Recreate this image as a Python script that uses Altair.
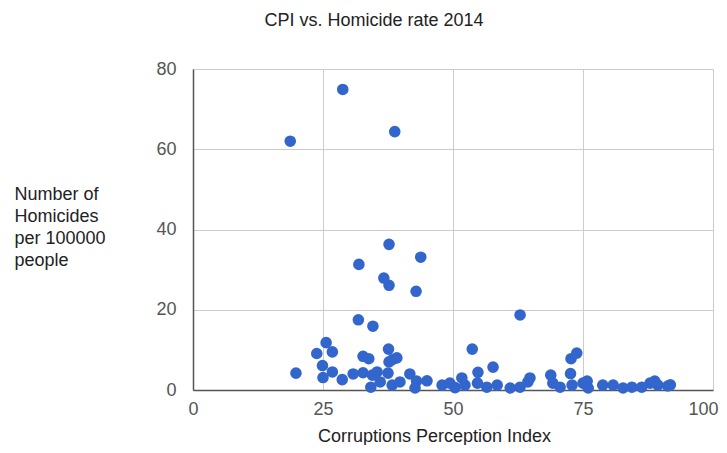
import altair as alt
import pandas as pd

# Corruption Perception Index (x) and homicides per 100000 people (y)
cpi = [18.7, 28.8, 38.8, 37.7, 31.9, 43.8, 36.7, 37.7, 42.9,
       31.8, 34.6, 62.9, 53.7, 57.7,
       19.8, 25.6, 23.8, 26.8, 24.9, 25.0, 26.8, 28.7, 30.8,
       32.7, 33.8, 37.6, 38.4, 39.2, 37.7,
       32.7, 34.5, 35.4, 34.2, 36.0, 37.5, 38.3, 39.8, 41.7, 43.0, 42.7, 45.0,
       47.9, 49.4, 50.4, 51.7, 52.3, 54.8, 54.7, 56.5,
       58.5, 61.0, 62.9, 64.4, 64.8,
       68.8, 69.2, 70.6, 72.6, 72.7, 73.8, 72.9, 75.0, 75.8, 76.0,
       78.8, 80.8, 82.7, 84.4, 86.3, 87.9, 89.4, 88.8, 91.3, 91.8]
homicides = [62.0, 74.9, 64.4, 36.3, 31.3, 33.1, 27.9, 26.1, 24.6,
             17.5, 15.9, 18.7, 10.2, 5.7,
             4.2, 11.8, 9.1, 9.5, 6.1, 3.1, 4.5, 2.6, 4.0,
             8.4, 7.8, 10.2, 7.6, 8.0, 7.0,
             4.3, 3.7, 4.5, 0.7, 2.0, 4.2, 1.2, 2.0, 4.0, 2.2, 0.5, 2.3,
             1.2, 1.7, 0.6, 3.0, 1.2, 4.4, 1.7, 0.7,
             1.2, 0.5, 0.7, 2.0, 3.0,
             3.7, 1.7, 0.7, 4.1, 7.8, 9.2, 1.2, 1.7, 2.2, 0.5,
             1.2, 1.2, 0.5, 0.7, 0.7, 1.7, 1.2, 2.2, 1.0, 1.3]

x_ticks = [0, 25, 50, 75, 100]
y_ticks = [0, 20, 40, 60, 80]

df = pd.DataFrame({"cpi": cpi, "homicides": homicides})

FONT = "Liberation Sans"

chart = alt.Chart(df).mark_circle(size=135, color="#3366cc", opacity=1).encode(
    x=alt.X("cpi:Q",
            scale=alt.Scale(domain=[0, 100], nice=False),
            axis=alt.Axis(values=x_ticks, title="Corruptions Perception Index",
                          titleX=241, titleY=51, titleBaseline="alphabetic",
                          titleAlign="center", titleFontWeight="normal",
                          titleFontSize=18, titleColor="#222222", titleFont=FONT,
                          labelFontSize=18, labelColor="#555555", labelFont=FONT,
                          labelPadding=10, ticks=False, tickSize=0,
                          labelAlign={"expr": "datum.value === 100 ? 'right' : 'center'"},
                          labelOffset={"expr": "datum.value === 100 ? 5 : 0"},
                          domainColor="#555555", domainWidth=1.5,
                          gridColor="#cccccc", labelFlush=False)),
    y=alt.Y("homicides:Q",
            scale=alt.Scale(domain=[0, 80], nice=False),
            axis=alt.Axis(values=y_ticks,
                          title=["Number of", "Homicides", "per 100000", "people"],
                          titleAngle=0, titleAlign="left", titleBaseline="alphabetic",
                          titleX=-179, titleY=130, titleLineHeight=22,
                          titleFontWeight="normal", titleFontSize=18,
                          titleColor="#222222", titleFont=FONT,
                          labelFontSize=18, labelColor="#555555", labelFont=FONT,
                          labelPadding=17, ticks=False, tickSize=0,
                          domainColor="#555555", domainWidth=1.5,
                          gridColor="#cccccc")),
).properties(
    width=520, height=321,
    title=alt.TitleParams("CPI vs. Homicide rate 2014", fontSize=18, font=FONT,
                          fontWeight="normal", color="#222222",
                          anchor="middle", dx=-79, offset=30),
    autosize=alt.AutoSizeParams(type="none"),
    padding={"left": 185, "top": 61, "right": 6, "bottom": 55},
).configure_view(stroke=None).configure(background="white")

chart.save("out.html", embed_options={"renderer": "svg", "actions": False})
